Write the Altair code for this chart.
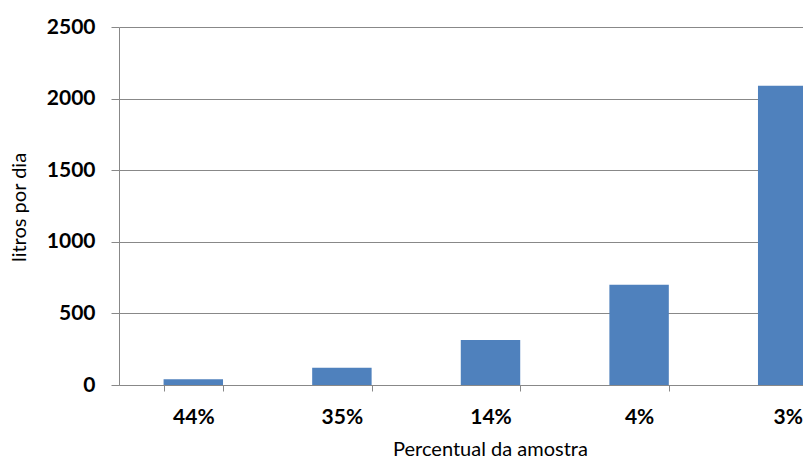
import altair as alt
import pandas as pd

categories = ["44%", "35%", "14%", "4%", "3%"]
litros = [40, 120, 315, 700, 2090]
y_ticks = [0, 500, 1000, 1500, 2000, 2500]

df = pd.DataFrame({"cat": categories, "val": litros})

FONT = "Lato"
GRAY = "#888888"

chart = alt.Chart(df).mark_bar(color="#4F81BD").encode(
    x=alt.X(
        "cat:N",
        sort=categories,
        scale=alt.Scale(range=[0, 743], paddingInner=0.6, paddingOuter=0.3),
        axis=alt.Axis(
            title="Percentual da amostra",
            labelAngle=0,
            labelFont=FONT,
            labelFontSize=21,
            labelFontWeight="bold",
            labelColor="#000000",
            labelBaseline="alphabetic",
            labelPadding=32,
            tickBand="extent",
            tickSize=6,
            tickColor=GRAY,
            domainColor=GRAY,
            grid=False,
            titleFont=FONT,
            titleFontSize=20,
            titleFontWeight="normal",
            titleColor="#000000",
            titleBaseline="alphabetic",
            titleX=371,
            titleY=70,
        ),
    ),
    y=alt.Y(
        "val:Q",
        scale=alt.Scale(domain=[0, 2500], nice=False),
        axis=alt.Axis(
            title="litros por dia",
            values=y_ticks,
            format="d",
            labelFont=FONT,
            labelFontSize=21,
            labelFontWeight="bold",
            labelColor="#000000",
            labelPadding=16,
            tickSize=8,
            tickColor=GRAY,
            domainColor=GRAY,
            gridColor=GRAY,
            gridOpacity=1,
            titleFont=FONT,
            titleFontSize=20,
            titleFontWeight="normal",
            titleColor="#000000",
            titleBaseline="middle",
            titleX=-100,
            titleY=180,
        ),
    ),
).properties(
    width=684,
    height=358,
    autosize=alt.AutoSizeParams(type="none"),
    padding={"left": 119, "top": 27, "right": 0, "bottom": 75},
).configure_view(stroke=None)

chart.save("out.html", embed_options={"renderer": "svg", "actions": False})
